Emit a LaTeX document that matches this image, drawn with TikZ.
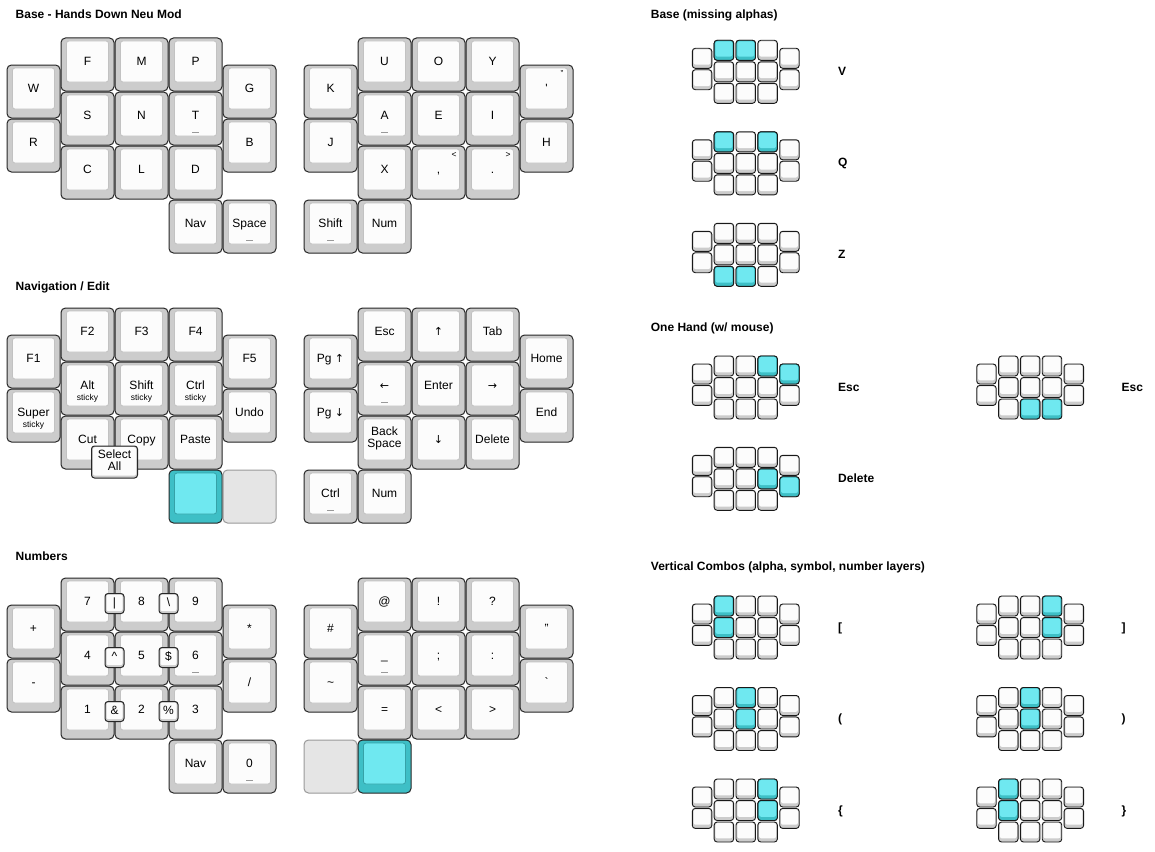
\documentclass[tikz,border=0pt]{standalone}
\usepackage{fontspec}
\setmainfont{Liberation Sans}
\newfontfamily\arrowfont{DejaVu Sans}
\usepackage{xcolor}

\definecolor{keygray}{HTML}{CCCCCC}
\definecolor{keyface}{HTML}{FCFCFC}
\definecolor{keyedge}{HTML}{C2C2C2}
\definecolor{heldout}{HTML}{3EBFC6}
\definecolor{heldin}{HTML}{6FE8F0}
\definecolor{emptykey}{HTML}{E5E5E5}

\tikzset{
  keyout/.style={draw=black!85, fill=keygray, line width=1pt, rounded corners=4.5pt},
  keyin/.style={draw=keyedge, fill=keyface, line width=0.8pt, rounded corners=2.5pt},
  emptycap/.style={draw=black!40, fill=emptykey, line width=1pt, rounded corners=4.5pt},
  keylbl/.style={font=\fontsize{12}{12}\selectfont, inner sep=0pt, anchor=base},
  sublbl/.style={font=\fontsize{8.5}{9}\selectfont, inner sep=0pt, anchor=base},
  laytitle/.style={font=\bfseries\fontsize{12}{13}\selectfont, inner sep=0pt, anchor=base west},
  combolbl/.style={font=\fontsize{12}{12}\selectfont, inner sep=0pt, text height=8.6pt, text depth=2.4pt},
  holdmk/.style={draw=black!40, line width=0.8pt},
  minikey/.style={draw=black!90, fill=keygray, line width=0.9pt, rounded corners=3pt},
  minihl/.style={minikey, fill=heldout},
}

% arrows come from DejaVu, Liberation draws them too small
\newcommand{\arr}[1]{{\arrowfont\fontsize{11}{12}\selectfont #1}}

% big keys, placed by column / row inside a half (\ox,\oy = top left)
\newcommand{\kbcap}[2]{%
  \draw[keyout] (\ox+54*#1,\oy+54*#2) rectangle ++(53,53);
  \draw[keyin] (\ox+54*#1+5.5,\oy+54*#2+3) rectangle ++(42,41);
}
\newcommand{\kbkey}[4]{%
  \kbcap{#2}{#3}
  \node[keylbl] (#1) at (\ox+54*#2+26.5,\oy+54*#3+27) {#4};
}
\newcommand{\heldcap}[2]{%
  \draw[keyout, fill=heldout] (\ox+54*#1,\oy+54*#2) rectangle ++(53,53);
  \draw[keyin, draw=heldout!85!black, fill=heldin] (\ox+54*#1+5.5,\oy+54*#2+3) rectangle ++(42,41);
}
\newcommand{\emptycap}[2]{%
  \draw[emptycap] (\ox+54*#1,\oy+54*#2) rectangle ++(53,53);
}
\newcommand{\holdmark}[2]{\draw[holdmk] (\ox+54*#1+23,\oy+54*#2+40) -- ++(7,0);}
\newcommand{\shiftlbl}[4]{\node[sublbl] (#1) at (\ox+54*#2+42,\oy+54*#3+11.5) {#4};}
\newcommand{\stickylbl}[3]{\node[sublbl] (#1) at (\ox+54*#2+26.5,\oy+54*#3+38.5) {sticky};}
% combo box: center x, center y, width, height
\newcommand{\combobox}[4]{%
  \draw[keyout, rounded corners=3pt] (#1-#3/2,#2-#4/2) rectangle ++(#3,#4);
  \fill[keyface, rounded corners=2pt] (#1-#3/2+1.5,#2-#4/2+1.2) rectangle ++(#3-3,#4-3.5);
}
\newcommand{\combo}[4]{%
  \combobox{#2}{#3}{19}{20}
  \node[combolbl] (#1) at (#2,#3) {#4};
}

% mini boards: left, top
\newcommand{\minicap}[4]{%
  \draw[#1] (#3,#4) rectangle ++(19.5,20);
  \fill[#2, rounded corners=2pt] (#3+1.3,#4+1) rectangle ++(16.9,15.3);
}
\newcommand{\minikb}[2]{%
  \foreach \c in {1,2,3}{\foreach \r in {0,1,2}{\minicap{minikey}{keyface}{#1+21.85*\c}{#2+21.5*\r}}}
  \foreach \c in {0,4}{\foreach \r in {0,1}{\minicap{minikey}{keyface}{#1+21.85*\c}{#2+8+21.4*\r}}}
}
\newcommand{\minihl}[4]{\minicap{minihl}{heldin}{#1+21.85*#3}{#2+21.5*#4}}
\newcommand{\minihlo}[4]{\minicap{minihl}{heldin}{#1+21.85*#3}{#2+8+21.4*#4}}

\begin{document}
\begin{tikzpicture}[x=1pt, y=-1pt]
\useasboundingbox (0,0) rectangle (1155,851);

% titles
\node[laytitle] (tbase) at (15.5,18.3) {Base - Hands Down Neu Mod};
\node[laytitle] (tnav) at (15.5,290.3) {Navigation / Edit};
\node[laytitle] (tnum) at (15.5,560.3) {Numbers};
\node[laytitle] (tmiss) at (650.7,18.3) {Base (missing alphas)};
\node[laytitle] (tone) at (650.7,331) {One Hand (w/ mouse)};
\node[laytitle] (tvert) at (650.7,570.3) {Vertical Combos (alpha, symbol, number layers)};

% ---- base layer
\def\oy{38}
\def\ox{7}
\kbkey{bW}{0}{0.5}{W}
\kbkey{bR}{0}{1.5}{R}
\kbkey{bF}{1}{0}{F}
\kbkey{bM}{2}{0}{M}
\kbkey{bP}{3}{0}{P}
\kbkey{bS}{1}{1}{S}
\kbkey{bN}{2}{1}{N}
\kbkey{bT}{3}{1}{T} \holdmark{3}{1}
\kbkey{bC}{1}{2}{C}
\kbkey{bL}{2}{2}{L}
\kbkey{bD}{3}{2}{D}
\kbkey{bG}{4}{0.5}{G}
\kbkey{bB}{4}{1.5}{B}
\kbkey{bNav}{3}{3}{Nav}
\kbkey{bSpc}{4}{3}{Space} \holdmark{4}{3}
\def\ox{304}
\kbkey{bK}{0}{0.5}{K}
\kbkey{bJ}{0}{1.5}{J}
\kbkey{bU}{1}{0}{U}
\kbkey{bO}{2}{0}{O}
\kbkey{bY}{3}{0}{Y}
\kbkey{bA}{1}{1}{A} \holdmark{1}{1}
\kbkey{bE}{2}{1}{E}
\kbkey{bI}{3}{1}{I}
\kbkey{bX}{1}{2}{X}
\kbkey{bcom}{2}{2}{,} \shiftlbl{bcoms}{2}{2}{<}
\kbkey{bdot}{3}{2}{.} \shiftlbl{bdots}{3}{2}{>}
\kbkey{bquo}{4}{0.5}{\textquotesingle} \shiftlbl{bquos}{4}{0.5}{"}
\kbkey{bH}{4}{1.5}{H}
\kbkey{bShift}{0}{3}{Shift} \holdmark{0}{3}
\kbkey{bNum}{1}{3}{Num}

% ---- navigation / edit layer
\def\oy{308}
\def\ox{7}
\kbkey{nF1}{0}{0.5}{F1}
\kbkey{nSuper}{0}{1.5}{Super} \stickylbl{nSupers}{0}{1.5}
\kbkey{nF2}{1}{0}{F2}
\kbkey{nF3}{2}{0}{F3}
\kbkey{nF4}{3}{0}{F4}
\kbkey{nAlt}{1}{1}{Alt} \stickylbl{nAlts}{1}{1}
\kbkey{nShift}{2}{1}{Shift} \stickylbl{nShifts}{2}{1}
\kbkey{nCtrl}{3}{1}{Ctrl} \stickylbl{nCtrls}{3}{1}
\kbkey{nCut}{1}{2}{Cut}
\kbkey{nCopy}{2}{2}{Copy}
\kbkey{nPaste}{3}{2}{Paste}
\kbkey{nF5}{4}{0.5}{F5}
\kbkey{nUndo}{4}{1.5}{Undo}
\heldcap{3}{3}
\emptycap{4}{3}
\combobox{114.5}{462}{46}{32}
\node[keylbl, anchor=center, align=center] (nSelAll) at (114.5,460.5) {Select\\All};
\def\ox{304}
\kbkey{nPgUp}{0}{0.5}{Pg \arr{↑}}
\kbkey{nPgDn}{0}{1.5}{Pg \arr{↓}}
\kbkey{nEsc}{1}{0}{Esc}
\kbkey{nUp}{2}{0}{\arr{↑}}
\kbkey{nTab}{3}{0}{Tab}
\kbkey{nLeft}{1}{1}{\arr{←}} \holdmark{1}{1}
\kbkey{nEnter}{2}{1}{Enter}
\kbkey{nRight}{3}{1}{\arr{→}}
\kbcap{1}{2}
\node[keylbl, anchor=center, align=center] (nBksp) at (\ox+54+26.5,\oy+108+22.5) {Back\\Space};
\kbkey{nDown}{2}{2}{\arr{↓}}
\kbkey{nDel}{3}{2}{Delete}
\kbkey{nHome}{4}{0.5}{Home}
\kbkey{nEnd}{4}{1.5}{End}
\kbkey{nCtrlT}{0}{3}{Ctrl} \holdmark{0}{3}
\kbkey{nNum}{1}{3}{Num}

% ---- numbers layer
\def\oy{578}
\def\ox{7}
\kbkey{mPlus}{0}{0.5}{+}
\kbkey{mMinus}{0}{1.5}{-}
\kbkey{m7}{1}{0}{7}
\kbkey{m8}{2}{0}{8}
\kbkey{m9}{3}{0}{9}
\kbkey{m4}{1}{1}{4}
\kbkey{m5}{2}{1}{5}
\kbkey{m6}{3}{1}{6} \holdmark{3}{1}
\kbkey{m1}{1}{2}{1}
\kbkey{m2}{2}{2}{2}
\kbkey{m3}{3}{2}{3}
\kbkey{mStar}{4}{0.5}{*}
\kbkey{mSlash}{4}{1.5}{/}
\kbkey{mNav}{3}{3}{Nav}
\kbkey{m0}{4}{3}{0} \holdmark{4}{3}
\combo{mPipe}{114.5}{603.5}{|}
\combo{mBsl}{168.5}{603.5}{\textbackslash}
\combo{mCaret}{114.5}{657.5}{\textasciicircum}
\combo{mDollar}{168.5}{657.5}{\$}
\combo{mAmp}{114.5}{711.5}{\&}
\combo{mPct}{168.5}{711.5}{\%}
\def\ox{304}
\kbkey{mHash}{0}{0.5}{\#}
\kbkey{mTilde}{0}{1.5}{\textasciitilde}
\kbkey{mAt}{1}{0}{@}
\kbkey{mExcl}{2}{0}{!}
\kbkey{mQues}{3}{0}{?}
\kbkey{mUnd}{1}{1}{\_} \holdmark{1}{1}
\kbkey{mSemi}{2}{1}{;}
\kbkey{mColon}{3}{1}{:}
\kbkey{mEq}{1}{2}{=}
\kbkey{mLt}{2}{2}{<}
\kbkey{mGt}{3}{2}{>}
\kbkey{mDquo}{4}{0.5}{"}
\kbkey{mGrave}{4}{1.5}{\textasciigrave}
\emptycap{0}{3}
\heldcap{1}{3}

% ---- base (missing alphas)
\minikb{692.3}{40.3} \minihl{692.3}{40.3}{1}{0} \minihl{692.3}{40.3}{2}{0}
\node[laytitle] (cV) at (838,75.3) {V};
\minikb{692.3}{131.8} \minihl{692.3}{131.8}{1}{0} \minihl{692.3}{131.8}{3}{0}
\node[laytitle] (cQ) at (838,166.8) {Q};
\minikb{692.3}{223.3} \minihl{692.3}{223.3}{1}{2} \minihl{692.3}{223.3}{2}{2}
\node[laytitle] (cZ) at (838,258.3) {Z};

% ---- one hand
\minikb{692.3}{356} \minihl{692.3}{356}{3}{0} \minihlo{692.3}{356}{4}{0}
\node[laytitle] (cEsc) at (838,391) {Esc};
\minikb{976.7}{356} \minihl{976.7}{356}{2}{2} \minihl{976.7}{356}{3}{2}
\node[laytitle] (cEsc2) at (1121.5,391) {Esc};
\minikb{692.3}{447.3} \minihl{692.3}{447.3}{3}{1} \minihlo{692.3}{447.3}{4}{1}
\node[laytitle] (cDel) at (838,482.3) {Delete};

% ---- vertical combos
\minikb{692.3}{596} \minihl{692.3}{596}{1}{0} \minihl{692.3}{596}{1}{1}
\node[laytitle] (cLbrk) at (838,631) {[};
\minikb{976.7}{596} \minihl{976.7}{596}{3}{0} \minihl{976.7}{596}{3}{1}
\node[laytitle] (cRbrk) at (1121.5,631) {]};
\minikb{692.3}{687.5} \minihl{692.3}{687.5}{2}{0} \minihl{692.3}{687.5}{2}{1}
\node[laytitle] (cLpar) at (838,722.5) {(};
\minikb{976.7}{687.5} \minihl{976.7}{687.5}{2}{0} \minihl{976.7}{687.5}{2}{1}
\node[laytitle] (cRpar) at (1121.5,722.5) {)};
\minikb{692.3}{779} \minihl{692.3}{779}{3}{0} \minihl{692.3}{779}{3}{1}
\node[laytitle] (cLbrc) at (838,814) {\{};
\minikb{976.7}{779} \minihl{976.7}{779}{1}{0} \minihl{976.7}{779}{1}{1}
\node[laytitle] (cRbrc) at (1121.5,814) {\}};
\end{tikzpicture}
\end{document}
